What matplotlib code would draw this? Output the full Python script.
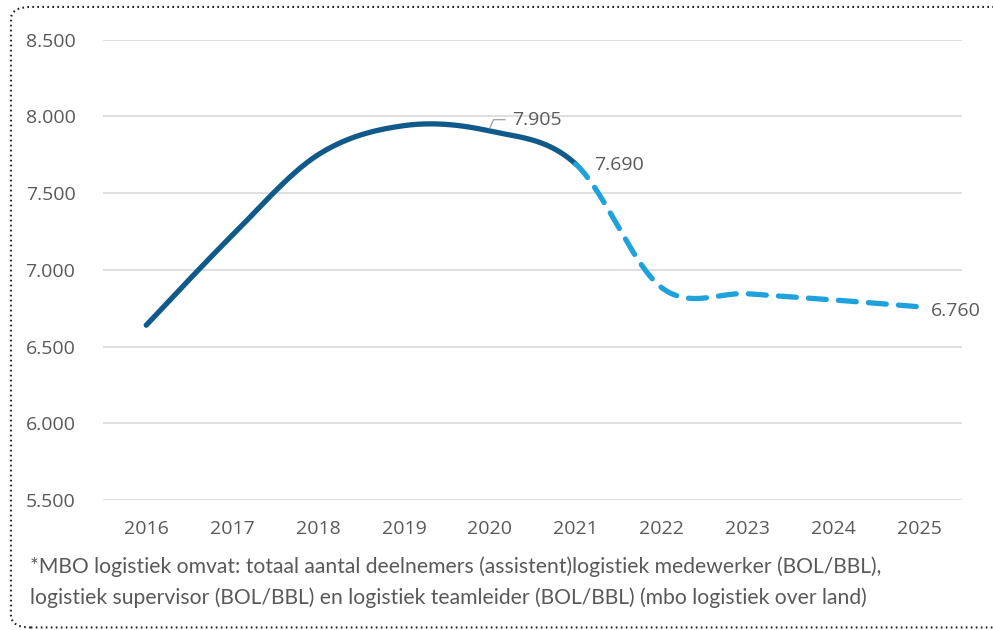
import matplotlib.pyplot as plt
import numpy as np
from matplotlib.patches import FancyBboxPatch

years = ["2016", "2017", "2018", "2019", "2020", "2021", "2022", "2023", "2024", "2025"]
deelnemers = [6640, 7225, 7750, 7940, 7905, 7690, 6885, 6845, 6805, 6760]
labelled = {4: "7.905", 5: "7.690", 9: "6.760"}
last_actual = 5  # index of 2021, forecast after that

DARK = "#0f5a8a"
LIGHT = "#1ea2dc"
GREY = "#595959"


def smooth(xs, ys, n=40):
    # Catmull-Rom style bezier like the office "smoothed line"
    xs = np.asarray(xs, float)
    ys = np.asarray(ys, float)
    px = np.concatenate([[xs[0]], xs, [xs[-1]]])
    py = np.concatenate([[ys[0]], ys, [ys[-1]]])
    outx, outy, seg = [], [], []
    t = np.linspace(0, 1, n)
    for i in range(1, len(px) - 2):
        p0 = np.array([px[i], py[i]])
        p3 = np.array([px[i + 1], py[i + 1]])
        p1 = p0 + (np.array([px[i + 1], py[i + 1]]) - np.array([px[i - 1], py[i - 1]])) / 6
        p2 = p3 - (np.array([px[i + 2], py[i + 2]]) - np.array([px[i], py[i]])) / 6
        b = ((1 - t) ** 3)[:, None] * p0 + (3 * (1 - t) ** 2 * t)[:, None] * p1 \
            + (3 * (1 - t) * t ** 2)[:, None] * p2 + (t ** 3)[:, None] * p3
        outx.append(b[:, 0])
        outy.append(b[:, 1])
        seg.append(np.full(n, i - 1))
    return np.concatenate(outx), np.concatenate(outy), np.concatenate(seg)


plt.rcParams["font.family"] = ["Open Sans", "DejaVu Sans"]

fig = plt.figure(figsize=(9.93, 6.3), dpi=100)
ax = fig.add_axes([0.104, 0.206, 0.865, 0.731])

x = np.arange(len(years))
sx, sy, seg = smooth(x, deelnemers)
solid = seg < last_actual
ax.plot(sx[solid], sy[solid], color=DARK, lw=3.8, solid_capstyle="round", zorder=3)
ax.plot(sx[~solid], sy[~solid], color=LIGHT, lw=3.8, dashes=(3.4, 2.3),
        dash_capstyle="round", zorder=3)

ax.set_xlim(-0.5, len(years) - 0.5)
ax.set_ylim(5500, 8500)
ax.set_yticks(np.arange(5500, 8501, 500))
ax.set_yticklabels([f"{v:,.0f}".replace(",", ".") for v in np.arange(5500, 8501, 500)])
ax.set_xticks(x)
ax.set_xticklabels(years)
ax.tick_params(axis="both", length=0, labelsize=14, colors=GREY)
ax.tick_params(axis="x", pad=14)
ax.tick_params(axis="y", pad=20)
ax.grid(axis="y", color="#d9d9d9", lw=1.2)
ax.set_axisbelow(True)
for s in ax.spines.values():
    s.set_visible(False)

# data labels
ax.annotate(labelled[4], xy=(x[4], deelnemers[4] + 20), xytext=(16, 6),
            textcoords="offset points", fontsize=14, color=GREY, va="center", ha="left",
            arrowprops=dict(arrowstyle="-", color="#a6a6a6", lw=1,
                            connectionstyle="angle,angleA=0,angleB=65,rad=0",
                            shrinkA=3, shrinkB=0), zorder=4)
ax.annotate(labelled[5], xy=(x[5], deelnemers[5]), xytext=(13, -1),
            textcoords="offset points", fontsize=14, color=GREY, va="center", ha="left")
ax.annotate(labelled[9], xy=(x[9], deelnemers[9]), xytext=(8, -3),
            textcoords="offset points", fontsize=14, color=GREY, va="center", ha="left",
            annotation_clip=False)

fig.text(0.030, 0.100, "*MBO logistiek omvat: totaal aantal deelnemers (assistent)logistiek medewerker (BOL/BBL),",
         fontsize=15.2, color=GREY, family=["Lato", "DejaVu Sans"], va="center")
fig.text(0.030, 0.052, "logistiek supervisor (BOL/BBL) en logistiek teamleider (BOL/BBL) (mbo logistiek over land)",
         fontsize=15.2, color=GREY, family=["Lato", "DejaVu Sans"], va="center")

border = FancyBboxPatch((0.011, 0.004), 1.2, 0.985, boxstyle="round,pad=0,rounding_size=0.02",
                        transform=fig.transFigure, fill=False, ec="#222222", lw=1.5,
                        ls=(0, (0.8, 1.6)), clip_on=False)
fig.patches.append(border)

plt.savefig("out.png", dpi=100)
